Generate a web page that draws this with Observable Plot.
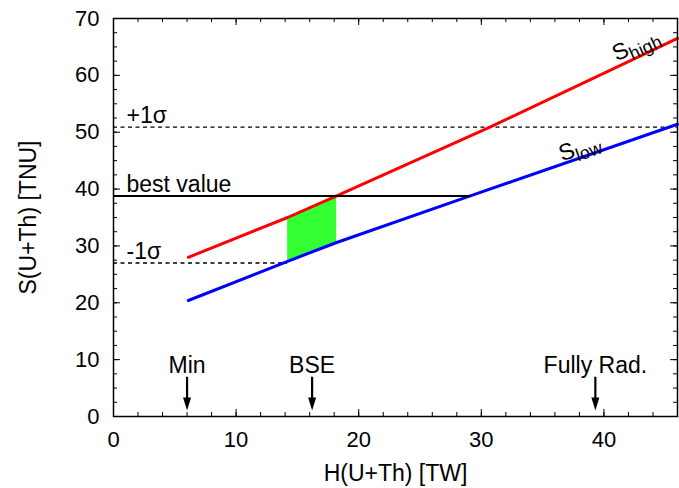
<!DOCTYPE html>
<html>
<head>
<meta charset="utf-8">
<script src="https://cdn.jsdelivr.net/npm/d3@7"></script>
<script src="https://cdn.jsdelivr.net/npm/@observablehq/plot@0.6"></script>
<style>
  html, body { margin: 0; padding: 0; background: #fff; }
  #chart { width: 679px; height: 488px; }
</style>
</head>
<body>
<div id="chart"></div>
<script>
// Geo-neutrino signal S(U+Th) versus radiogenic heat H(U+Th)

// Upper and lower model lines (H in TW, S in TNU)
const hHigh = [6.1, 14.2, 18.2, 30.7, 46.0];
const sHigh = [28.0, 35.0, 38.8, 50.9, 66.5];
const hLow = [6.1, 14.2, 18.2, 29.1, 46.0];
const sLow = [20.4, 27.3, 30.6, 38.8, 51.4];

// Measured signal: best value and ±1σ
const refNames = ["+1σ", "best value", "-1σ"];
const refS = [50.9, 38.8, 27.0];
const refEndH = [46.0, 29.1, 14.2];
const refDashed = [true, false, true];

// Earth model heat estimates
const modelNames = ["Min", "BSE", "Fully Rad."];
const modelH = [6.0, 16.2, 39.3];
const arrowTopS = 6.9;
const arrowTipS = 1.05;

// Curve names
const curveNames = ["S_high", "S_low"];
const curveLabelH = [42.6, 38.0];
const curveLabelS = [65.4, 47.3];
const curveAngle = [-24.5, -19.5];

// Axis ticks
const hTickLabels = [0, 10, 20, 30, 40];
const sTickLabels = [0, 10, 20, 30, 40, 50, 60, 70];
const hMinor = d3.range(0, 46.01, 2);
const sMinor = d3.range(0, 70.01, 2.5);

const W = 679, H = 488;
const mL = 113, mR = 2, mT = 18, mB = 72;
const innerW = W - mL - mR, innerH = H - mT - mB;
const major = 7, minor = 4;
const labelSize = 23;

const high = hHigh.map((h, i) => ({h, s: sHigh[i]}));
const low = hLow.map((h, i) => ({h, s: sLow[i]}));
// Allowed band: between the two lines, from -1σ on S_low to the best value on S_high
const band = [1, 2].map(i => ({h: hHigh[i], lo: sLow[i], hi: sHigh[i]}));
const refs = refNames.map((name, i) => ({name, s: refS[i], end: refEndH[i], dashed: refDashed[i]}));
const models = modelNames.map((name, i) => ({name, h: modelH[i]}));
const curves = curveNames.map((name, i) => ({name, h: curveLabelH[i], s: curveLabelS[i], a: curveAngle[i]}));

// Filled downward arrow head with its tip at the origin
const arrowHead = {
  draw(context) {
    context.moveTo(0, 0);
    context.lineTo(-4, -13);
    context.lineTo(4, -13);
    context.closePath();
  }
};

const plot = Plot.plot({
  width: W,
  height: H,
  marginLeft: mL,
  marginRight: mR,
  marginTop: mT,
  marginBottom: mB,
  style: {fontFamily: "'Liberation Sans', Arial, sans-serif", fontSize: "22px", background: "white", color: "black"},
  x: {domain: [0, 46]},
  y: {domain: [0, 70]},
  marks: [
    Plot.areaY(band, {x: "h", y1: "lo", y2: "hi", fill: "#33ff33"}),
    Plot.ruleY(refs.filter(d => d.dashed), {y: "s", x1: 0, x2: "end", stroke: "black", strokeWidth: 1.3, strokeDasharray: "4,3.5"}),
    Plot.line(high, {x: "h", y: "s", stroke: "#ff0000", strokeWidth: 3}),
    Plot.line(low, {x: "h", y: "s", stroke: "#0000ff", strokeWidth: 3}),
    Plot.ruleY(refs.filter(d => !d.dashed), {y: "s", x1: 0, x2: "end", stroke: "black", strokeWidth: 2}),
    Plot.text(refs, {x: 0, y: "s", text: "name", textAnchor: "start", lineAnchor: "bottom", dx: 13, dy: -4, fontSize: labelSize}),
    Plot.text(curves, {x: "h", y: "s", text: "name", rotate: "a", textAnchor: "middle", lineAnchor: "middle", fontSize: labelSize}),
    // Model arrows
    Plot.ruleX(models, {x: "h", y1: arrowTopS, y2: arrowTipS, stroke: "black", strokeWidth: 2.2, insetBottom: 8}),
    Plot.dot(models, {x: "h", y: arrowTipS, symbol: arrowHead, fill: "black", stroke: "none"}),
    Plot.text(models, {x: "h", y: arrowTopS, text: "name", textAnchor: "middle", lineAnchor: "bottom", dy: -4, fontSize: labelSize}),
    // Inward ticks on all four sides
    Plot.ruleX(hTickLabels, {x: d => d, insetTop: innerH - major, stroke: "black"}),
    Plot.ruleX(hTickLabels, {x: d => d, insetBottom: innerH - major, stroke: "black"}),
    Plot.ruleX(hMinor, {x: d => d, insetTop: innerH - minor, stroke: "black"}),
    Plot.ruleX(hMinor, {x: d => d, insetBottom: innerH - minor, stroke: "black"}),
    Plot.ruleY(sTickLabels, {y: d => d, insetRight: innerW - major, stroke: "black"}),
    Plot.ruleY(sTickLabels, {y: d => d, insetLeft: innerW - major, stroke: "black"}),
    Plot.ruleY(sMinor, {y: d => d, insetRight: innerW - minor, stroke: "black"}),
    Plot.ruleY(sMinor, {y: d => d, insetLeft: innerW - minor, stroke: "black"}),
    Plot.frame({stroke: "black", strokeWidth: 1.5}),
    Plot.axisX({ticks: hTickLabels, tickSize: 0, tickPadding: 15, fontSize: 22,
      label: "H(U+Th) [TW]", labelAnchor: "center", labelArrow: "none", labelOffset: 64}),
    Plot.axisY({ticks: sTickLabels, tickSize: 0, tickPadding: 14, fontSize: 22,
      label: "S(U+Th) [TNU]", labelAnchor: "center", labelArrow: "none", labelOffset: 94})
  ]
});

// Subscripts on the curve names
d3.select(plot).selectAll("text").filter(function () {
  return this.textContent === "S_high" || this.textContent === "S_low";
}).each(function () {
  const sub = this.textContent.split("_")[1];
  const t = d3.select(this);
  t.text("");
  t.append("tspan").text("S");
  t.append("tspan").attr("font-size", 18).attr("dy", "0.3em").text(sub);
});

// Axis titles slightly larger than the tick numbers
d3.select(plot).selectAll("text").filter(function () {
  return this.textContent === "H(U+Th) [TW]" || this.textContent === "S(U+Th) [TNU]";
}).attr("font-size", labelSize);

document.getElementById("chart").appendChild(plot);
</script>
</body>
</html>
